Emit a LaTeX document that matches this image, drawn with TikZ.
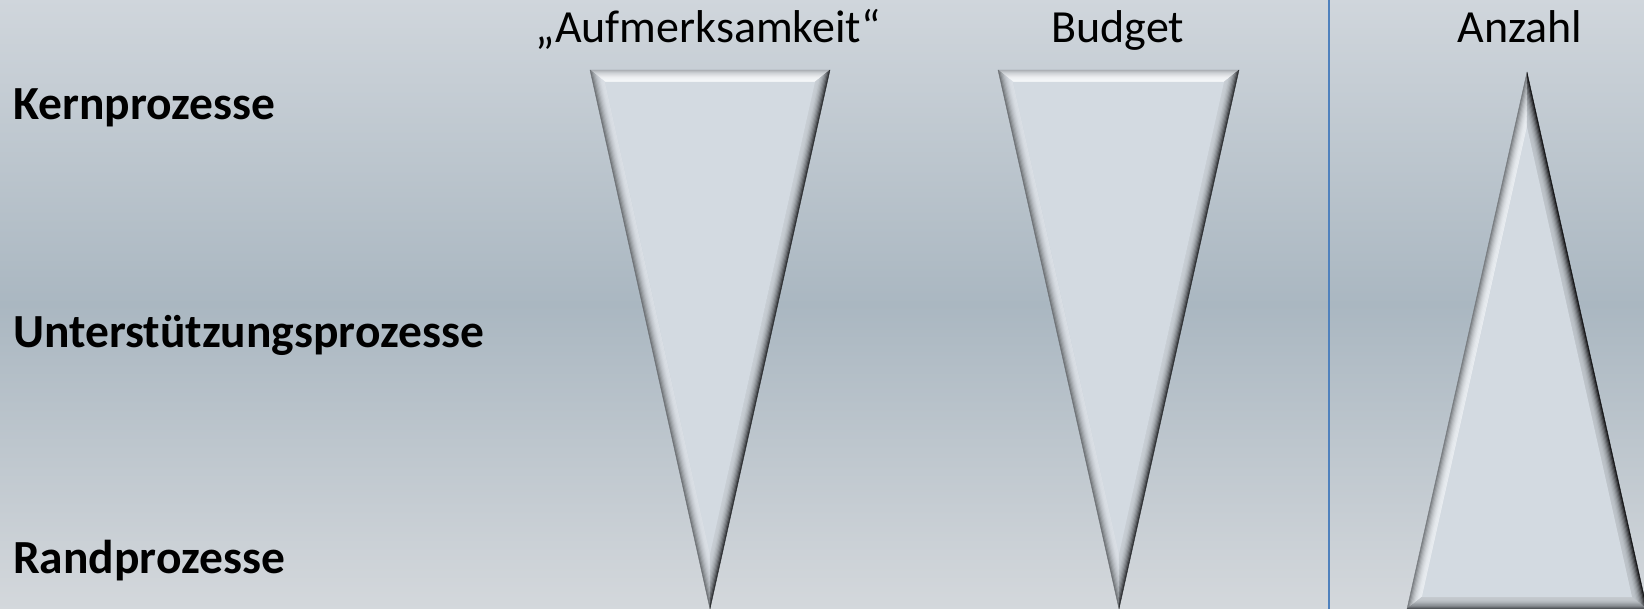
\documentclass[tikz,border=0pt]{standalone}
\usepackage{fontspec}
\setmainfont{Carlito}
\usetikzlibrary{calc}
\definecolor{bgTop}{RGB}{208,214,220}
\definecolor{bgMid}{RGB}{170,183,193}
\definecolor{bgBot}{RGB}{212,216,220}
\definecolor{innerC}{RGB}{211,218,225}
\definecolor{divC}{RGB}{79,129,189}
\definecolor{topO}{RGB}{170,175,180}
\definecolor{topI}{RGB}{245,247,249}
\definecolor{leftO}{RGB}{110,114,118}
\definecolor{leftI}{RGB}{218,223,229}
\definecolor{rightO}{RGB}{45,47,50}
\definecolor{rightI}{RGB}{200,206,212}
\definecolor{uLeftO}{RGB}{120,124,128}
\definecolor{uLeftI}{RGB}{232,236,240}
\definecolor{uRightO}{RGB}{20,20,22}
\definecolor{uRightI}{RGB}{190,196,202}
\definecolor{uBotO}{RGB}{80,84,88}
\definecolor{uBotI}{RGB}{195,200,205}
\newcommand\bevelstrip[6]{%
  \foreach \i in {0,...,9}{%
    \pgfmathsetmacro\ta{\i/10}%
    \pgfmathsetmacro\tb{(\i+1)/10}%
    \pgfmathtruncatemacro\cc{100*(1-\i/9)^2}%
    \filldraw[fill=#5!\cc!#6, draw=#5!\cc!#6, line width=0.4pt, line join=round]
      ($(#1)!\ta!(#4)$) -- ($(#2)!\ta!(#3)$) -- ($(#2)!\tb!(#3)$) -- ($(#1)!\tb!(#4)$) -- cycle;
  }}
\tikzset{
  toplabel/.style={anchor=base, inner sep=0pt, font=\fontsize{46}{55}\selectfont},
  sidelabel/.style={anchor=base west, inner sep=0pt, font=\fontsize{47.5}{57}\selectfont\bfseries},
  divider/.style={draw=divC, line width=2pt},
  innerface/.style={fill=innerC}
}
\begin{document}
\begin{tikzpicture}[x=1pt,y=-1pt]
\useasboundingbox (0,0) rectangle (1644,609);
\shade[top color=bgTop, bottom color=bgMid, shading=axis] (0,-1) rectangle (1644,305);
\shade[top color=bgMid, bottom color=bgBot, shading=axis] (0,304) rectangle (1644,610);
\begin{scope}
\clip (0,0) rectangle (1644,609);
% triangle 1 (down)
\coordinate (a1) at (590,70); \coordinate (b1) at (830,70); \coordinate (c1) at (710,609);
\coordinate (ai1) at (605,82); \coordinate (bi1) at (815,82); \coordinate (ci1) at (710,554);
\bevelstrip{a1}{b1}{bi1}{ai1}{topO}{topI}
\bevelstrip{c1}{a1}{ai1}{ci1}{leftO}{leftI}
\bevelstrip{b1}{c1}{ci1}{bi1}{rightO}{rightI}
\fill[innerface] (ai1) -- (bi1) -- (ci1) -- cycle;
% triangle 2 (down)
\coordinate (a2) at (998,70); \coordinate (b2) at (1239,70); \coordinate (c2) at (1119,609);
\coordinate (ai2) at (1013,82); \coordinate (bi2) at (1224,82); \coordinate (ci2) at (1119,554);
\bevelstrip{a2}{b2}{bi2}{ai2}{topO}{topI}
\bevelstrip{c2}{a2}{ai2}{ci2}{leftO}{leftI}
\bevelstrip{b2}{c2}{ci2}{bi2}{rightO}{rightI}
\fill[innerface] (ai2) -- (bi2) -- (ci2) -- cycle;
% triangle 3 (up)
\coordinate (a3) at (1527,72); \coordinate (b3) at (1647,609); \coordinate (c3) at (1407,609);
\coordinate (ai3) at (1527,127); \coordinate (bi3) at (1632,597); \coordinate (ci3) at (1422,597);
\bevelstrip{c3}{a3}{ai3}{ci3}{uLeftO}{uLeftI}
\bevelstrip{a3}{b3}{bi3}{ai3}{uRightO}{uRightI}
\bevelstrip{b3}{c3}{ci3}{bi3}{uBotO}{uBotI}
\fill[innerface] (ai3) -- (bi3) -- (ci3) -- cycle;
\end{scope}
% divider
\coordinate (dtop) at (1329,0); \coordinate (dbot) at (1329,609);
\draw[divider] (dtop) -- (dbot);
% labels
\node[toplabel] (aufm) at (708,43) {„Aufmerksamkeit“};
\node[toplabel] (budget) at (1118,43) {Budget};
\node[toplabel] (anzahl) at (1520,43) {Anzahl};
\node[sidelabel] (kern) at (13,120) {Kernprozesse};
\node[sidelabel] (unter) at (13,348) {Unterstützungsprozesse};
\node[sidelabel] (rand) at (13,573) {Randprozesse};
\end{tikzpicture}
\end{document}
